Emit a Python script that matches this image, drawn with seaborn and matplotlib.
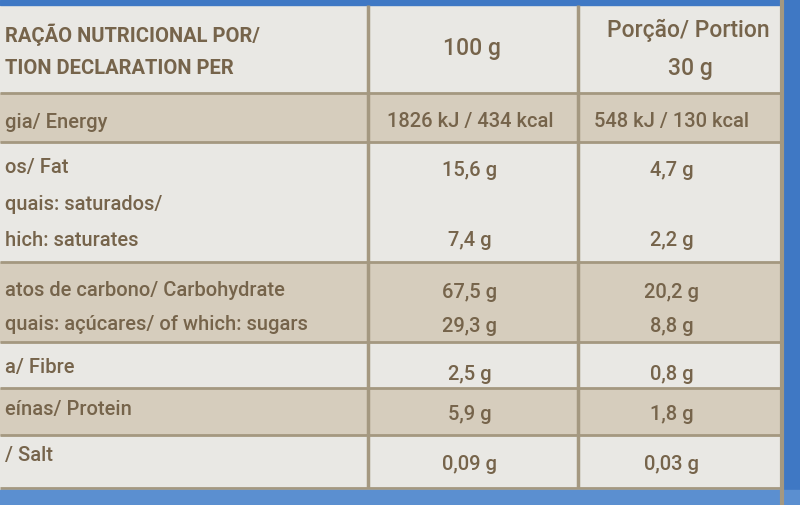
import matplotlib
matplotlib.use("Agg")
import matplotlib.pyplot as plt
import seaborn as sns

sns.set_style("white")
plt.rcParams['font.family'] = ['Liberation Sans Narrow', 'Roboto', 'DejaVu Sans']

# table contents
header_left = ["RAÇÃO NUTRICIONAL POR/", "TION DECLARATION PER"]
header_100 = "100 g"
header_portion = ["Porção/ Portion", "30 g"]
labels = ["gia/ Energy", "os/ Fat", "quais: saturados/", "hich: saturates",
          "atos de carbono/ Carbohydrate", "quais: açúcares/ of which: sugars",
          "a/ Fibre", "eínas/ Protein", "/ Salt"]
per_100 = ["1826 kJ / 434 kcal", "15,6 g", "", "7,4 g", "67,5 g", "29,3 g",
           "2,5 g", "5,9 g", "0,09 g"]
per_portion = ["548 kJ / 130 kcal", "4,7 g", "", "2,2 g", "20,2 g", "8,8 g",
               "0,8 g", "1,8 g", "0,03 g"]
label_y = [122, 168, 205, 240, 290, 325, 367, 410, 455]
value_y = [122, 170, 205, 240, 292, 327, 375, 414, 465]

# row bands (top, bottom, shaded)
bands = [(0, 93, False), (93, 142, True), (142, 262, False), (262, 342, True),
         (342, 388, False), (388, 435, True), (435, 488, False)]

fig = plt.figure(figsize=(8, 5.05), dpi=100)
ax = fig.add_axes([0, 0, 1, 1])
ax.set_xlim(0, 800)
ax.set_ylim(505, 0)
ax.axis("off")
fig.patch.set_facecolor("#e9e8e4")

txt = "#76644b"
line = "#a49880"
for top, bot, shaded in bands:
    if shaded:
        ax.axhspan(top, bot, xmin=0, xmax=782 / 800, color="#d6cdbd", zorder=0)
    ax.hlines(bot, 0, 782, color=line, lw=2, zorder=1)
ax.vlines([368, 578], 5, 488, color=line, lw=2.5)
ax.vlines(782, 0, 505, color=line, lw=3)
ax.axhspan(0, 5, color="#3f78c4")
ax.axvspan(784, 800, color="#3f78c4")
ax.axhspan(490, 505, color="#5b8fd0")

fs = 14.5
ax.text(5, 35, header_left[0], color=txt, fontsize=fs, fontweight="bold", va="center")
ax.text(5, 68, header_left[1], color=txt, fontsize=fs, fontweight="bold", va="center")
ax.text(472, 48, header_100, color=txt, fontsize=fs + 2, fontweight="medium", ha="center", va="center")
ax.text(688, 30, header_portion[0], color=txt, fontsize=fs + 2, fontweight="medium", ha="center", va="center")
ax.text(690, 68, header_portion[1], color=txt, fontsize=fs + 2, fontweight="medium", ha="center", va="center")

for lab, a, b, ly, vy in zip(labels, per_100, per_portion, label_y, value_y):
    ax.text(5, ly, lab, color=txt, fontsize=fs, fontweight="medium", va="center")
    ax.text(470, vy, a, color=txt, fontsize=fs, fontweight="medium", ha="center", va="center")
    ax.text(672, vy, b, color=txt, fontsize=fs, fontweight="medium", ha="center", va="center")

fig.savefig("out.png", dpi=100)
